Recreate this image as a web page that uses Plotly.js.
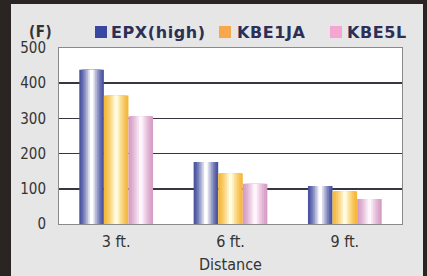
<!DOCTYPE html>
<html>
<head>
<meta charset="utf-8">
<script src="https://cdn.plot.ly/plotly-3.0.1.min.js"></script>
<style>
  html, body { margin:0; padding:0; background:#2a2523; width:427px; height:276px; overflow:hidden; }
  #chart { position:absolute; left:11px; top:4px; width:412px; height:272px; }
  .annotation-text { letter-spacing: 0.6px; }
</style>
</head>
<body>
<div id="chart"></div>
<script>
// ---- data ----
const categories = ["3 ft.", "6 ft.", "9 ft."];
const seriesNames = ["EPX(high)", "KBE1JA", "KBE5L"];
const epxHigh = [438, 176, 108];
const kbe1ja  = [365, 144, 93];
const kbe5l   = [306, 114, 71];
const yTicks  = [0, 100, 200, 300, 400, 500];

// ---- styling ----
const seriesValues = [epxHigh, kbe1ja, kbe5l];
const edgeColors   = [[74, 84, 160], [246, 184, 58], [214, 158, 198]];
const centerColors = [[255, 255, 255], [255, 252, 225], [255, 246, 252]];
const legendColors = ["#3848a0", "#f7a84a", "#f4a6d0"];
const barW = 0.215;
const offsets = [-1.5 * barW, -0.5 * barW, 0.5 * barW];
const layers = 7;
const condFont = "DejaVu Sans Condensed";

function mix(a, b, t) {
  return "rgb(" + a.map((v, i) => Math.round(v + (b[i] - v) * t)).join(",") + ")";
}

const traces = [];
seriesValues.forEach((vals, s) => {
  for (let k = 0; k < layers; k++) {
    const f = 1 - k / layers;
    const t = Math.pow(k / (layers - 1), 1.3);
    const w = barW * f;
    traces.push({
      type: "bar",
      x: categories,
      y: vals,
      width: w,
      offset: offsets[s] + (barW - w) / 2,
      marker: { color: mix(edgeColors[s], centerColors[s], k === 0 ? 0 : t), line: { width: 0 } },
      name: seriesNames[s],
      showlegend: false,
      hoverinfo: "skip"
    });
  }
});

// plot area in page pixels: x 59..402, y 48..224
const px = x => (x - 59) / 343;
const py = y => (224 - y) / 176;
const legendSquareX = [95, 219, 330];
const legendTextX = [109, 235, 345];

const shapes = seriesNames.map((n, i) => ({
  type: "rect", xref: "paper", yref: "paper",
  x0: px(legendSquareX[i]), x1: px(legendSquareX[i] + 12),
  y0: py(38), y1: py(26),
  fillcolor: legendColors[i], line: { width: 0 }
}));

const annotations = seriesNames.map((n, i) => ({
  text: n, xref: "paper", yref: "paper",
  x: px(legendTextX[i]), y: py(32),
  xanchor: "left", yanchor: "middle", showarrow: false,
  font: { family: "DejaVu Sans", size: 16, color: "#2c3056", weight: "bold" }
}));
annotations.push({
  text: "(F)", xref: "paper", yref: "paper", x: px(27), y: py(32),
  xanchor: "left", yanchor: "middle", showarrow: false,
  font: { family: condFont, size: 15, color: "#333", weight: "bold" }
});

const layout = {
  width: 412, height: 272,
  margin: { l: 48, r: 21, t: 44, b: 52 },
  paper_bgcolor: "#e6e6e6",
  plot_bgcolor: "#ffffff",
  barmode: "overlay",
  showlegend: false,
  xaxis: {
    type: "category",
    tickfont: { family: condFont, size: 16, color: "#333" },
    showline: true, linecolor: "#8a8a8a", linewidth: 1, mirror: true,
    ticks: "", showgrid: false,
    ticklabelstandoff: 3,
    title: { text: "Distance", font: { family: condFont, size: 16, color: "#333" }, standoff: 8 }
  },
  yaxis: {
    range: [0, 500],
    tickvals: yTicks,
    ticktext: yTicks.map(String),
    tickfont: { family: condFont, size: 15, color: "#333" },
    showline: true, linecolor: "#8a8a8a", linewidth: 1, mirror: true,
    showgrid: true, gridcolor: "#3a3640", gridwidth: 1.5,
    zeroline: false,
    ticks: "", ticklabelstandoff: 9
  },
  shapes: shapes,
  annotations: annotations
};

Plotly.newPlot("chart", traces, layout, { displayModeBar: false, staticPlot: true });
</script>
</body>
</html>
